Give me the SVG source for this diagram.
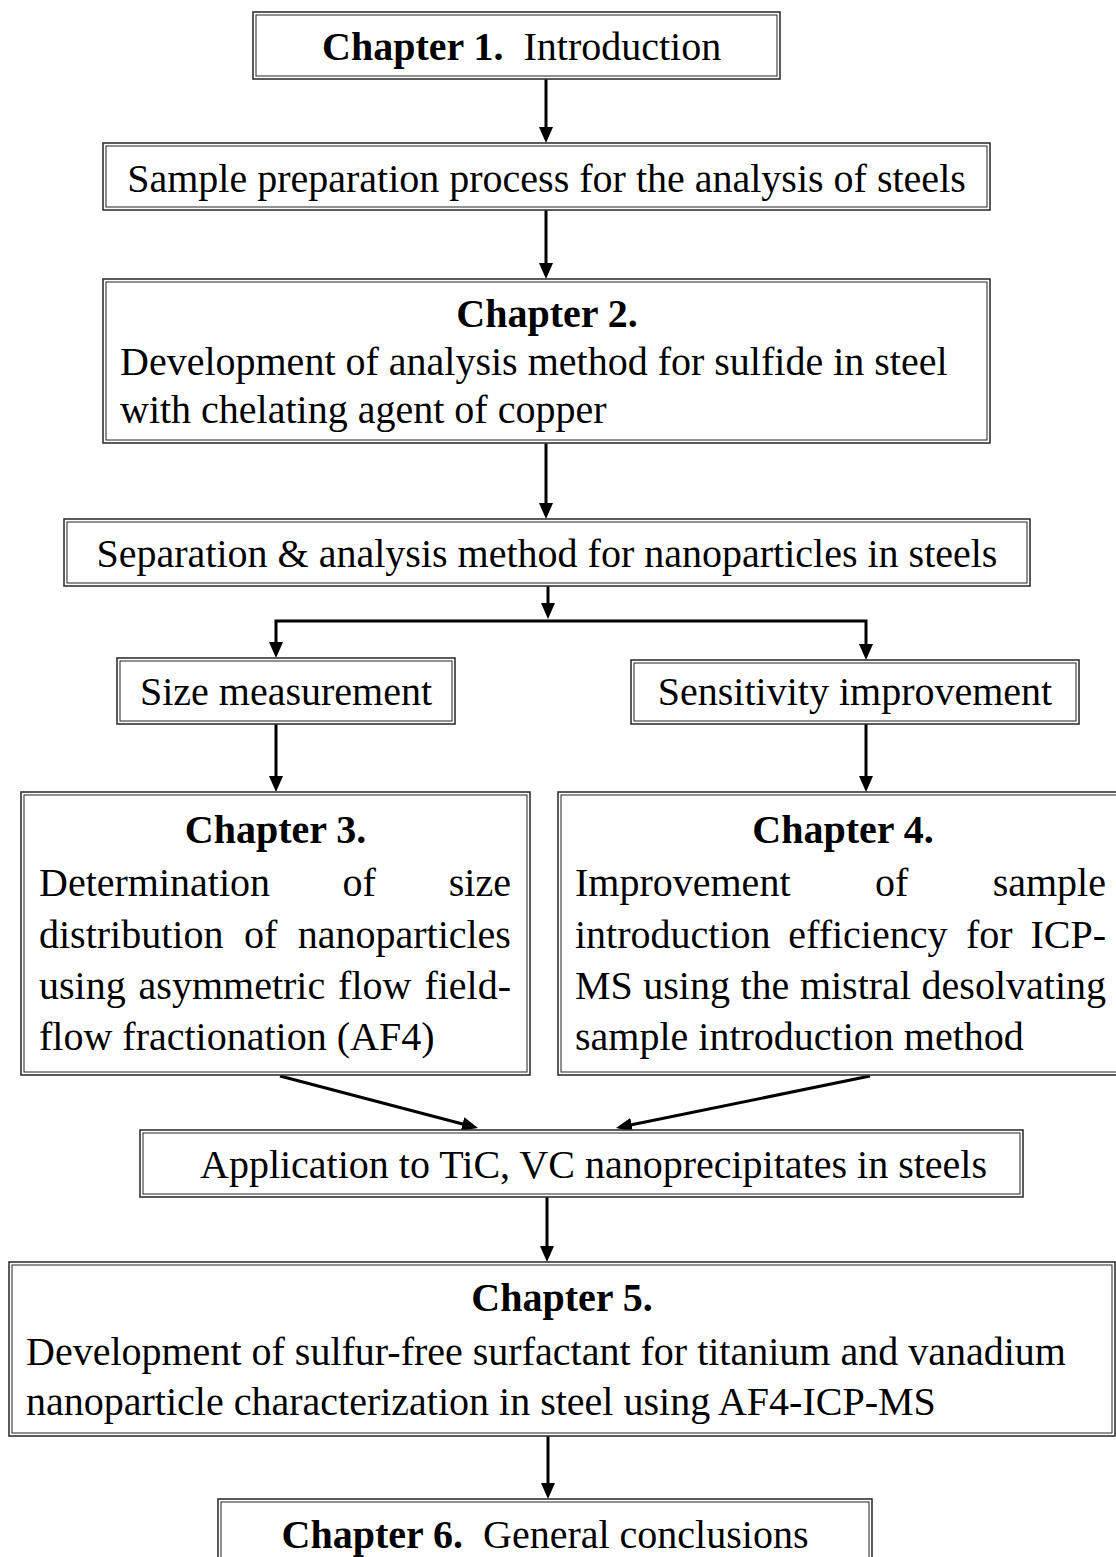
<svg xmlns="http://www.w3.org/2000/svg" width="1116" height="1557" viewBox="0 0 1116 1557">
<style>
.o{fill:#fff;stroke:#333;stroke-width:1.6}
.i{fill:none;stroke:#222;stroke-width:1}
.t{font-family:"Liberation Serif","Times New Roman",serif;font-size:40px;fill:#000}
.b{font-weight:bold}
.c{text-anchor:middle}
.ln{fill:none;stroke:#000;stroke-width:3;stroke-linejoin:miter}
</style>
<defs>
<marker id="ah" viewBox="0 0 16 14" markerWidth="16" markerHeight="14" refX="10" refY="7" orient="auto" markerUnits="userSpaceOnUse">
<path d="M0,0 L16,7 L0,14 z" fill="#000"/>
</marker>
</defs>
<rect width="1116" height="1557" fill="#fff"/>

<g id="connectors">
<path class="ln" d="M546,79 V137" marker-end="url(#ah)"/>
<path class="ln" d="M546,210 V273" marker-end="url(#ah)"/>
<path class="ln" d="M546,443 V513" marker-end="url(#ah)"/>
<path class="ln" d="M548,586 V613" marker-end="url(#ah)"/>
<path class="ln" d="M548,621 H276 V652" marker-end="url(#ah)"/>
<path class="ln" d="M548,621 H866 V654" marker-end="url(#ah)"/>
<path class="ln" d="M276,724 V786" marker-end="url(#ah)"/>
<path class="ln" d="M866,724 V786" marker-end="url(#ah)"/>
<path class="ln" d="M280,1076 L472.2,1126.5" marker-end="url(#ah)"/>
<path class="ln" d="M870,1076 L621.9,1126.8" marker-end="url(#ah)"/>
<path class="ln" d="M547,1197 V1256" marker-end="url(#ah)"/>
<path class="ln" d="M548,1436 V1493" marker-end="url(#ah)"/>
</g>

<g id="n1">
<rect class="o" x="253" y="12" width="527" height="67"/><rect class="i" x="256" y="15" width="521" height="61"/>
<text class="t" x="322" y="60" xml:space="preserve"><tspan class="b">Chapter 1.</tspan>  Introduction</text>
</g>

<g id="n2">
<rect class="o" x="103" y="143" width="887" height="67"/><rect class="i" x="106" y="146" width="881" height="61"/>
<text class="t c" x="546.5" y="192">Sample preparation process for the analysis of steels</text>
</g>

<g id="n3">
<rect class="o" x="103" y="279" width="887" height="164"/><rect class="i" x="106" y="282" width="881" height="158"/>
<text class="t b c" x="547" y="327">Chapter 2.</text>
<text class="t" x="120" y="375">Development of analysis method for sulfide in steel</text>
<text class="t" x="120" y="423">with chelating agent of copper</text>
</g>

<g id="n4">
<rect class="o" x="64" y="519" width="966" height="67"/><rect class="i" x="67" y="522" width="960" height="61"/>
<text class="t c" x="547" y="567">Separation &amp; analysis method for nanoparticles in steels</text>
</g>

<g id="n5">
<rect class="o" x="117" y="658" width="338" height="66"/><rect class="i" x="120" y="661" width="332" height="60"/>
<text class="t c" x="286" y="705">Size measurement</text>
</g>

<g id="n6">
<rect class="o" x="631" y="660" width="448" height="64"/><rect class="i" x="634" y="663" width="442" height="58"/>
<text class="t c" x="855" y="705">Sensitivity improvement</text>
</g>

<g id="n7">
<rect class="o" x="21" y="792" width="509" height="283"/><rect class="i" x="24" y="795" width="503" height="277"/>
<text class="t b c" x="275.5" y="843">Chapter 3.</text>
<text class="t" y="896"><tspan x="39">Determination</tspan><tspan x="342.4">of</tspan><tspan x="448.8">size</tspan></text>
<text class="t" y="948"><tspan x="39">distribution</tspan><tspan x="243.9">of</tspan><tspan x="297.7">nanoparticles</tspan></text>
<text class="t" y="999"><tspan x="39">using</tspan><tspan x="138.6">asymmetric</tspan><tspan x="338.1">flow</tspan><tspan x="424.4">field-</tspan></text>
<text class="t" x="39" y="1050">flow fractionation (AF4)</text>
</g>

<g id="n8">
<rect class="o" x="558" y="792" width="570" height="283"/><rect class="i" x="561" y="795" width="564" height="277"/>
<text class="t b c" x="843" y="843">Chapter 4.</text>
<text class="t" y="896"><tspan x="575">Improvement</tspan><tspan x="874.9">of</tspan><tspan x="992.7">sample</tspan></text>
<text class="t" y="948"><tspan x="575">introduction</tspan><tspan x="788.3">efficiency</tspan><tspan x="966">for</tspan><tspan x="1030.4">ICP-</tspan></text>
<text class="t" y="999"><tspan x="575">MS</tspan><tspan x="643.3">using</tspan><tspan x="740.5">the</tspan><tspan x="799.9">mistral</tspan><tspan x="921.6">desolvating</tspan></text>
<text class="t" x="575" y="1050">sample introduction method</text>
</g>

<g id="n9">
<rect class="o" x="140" y="1130" width="883" height="67"/><rect class="i" x="143" y="1133" width="877" height="61"/>
<text class="t" x="200" y="1178">Application to TiC, VC nanoprecipitates in steels</text>
</g>

<g id="n10">
<rect class="o" x="9" y="1262" width="1106" height="174"/><rect class="i" x="12" y="1265" width="1100" height="168"/>
<text class="t b c" x="562" y="1311">Chapter 5.</text>
<text class="t" x="26" y="1365">Development of sulfur-free surfactant for titanium and vanadium</text>
<text class="t" x="26" y="1415">nanoparticle characterization in steel using AF4-ICP-MS</text>
</g>

<g id="n11">
<rect class="o" x="218" y="1499" width="654" height="67"/><rect class="i" x="221" y="1502" width="648" height="61"/>
<text class="t c" x="545" y="1548" xml:space="preserve"><tspan class="b">Chapter 6.</tspan>  General conclusions</text>
</g>
</svg>
